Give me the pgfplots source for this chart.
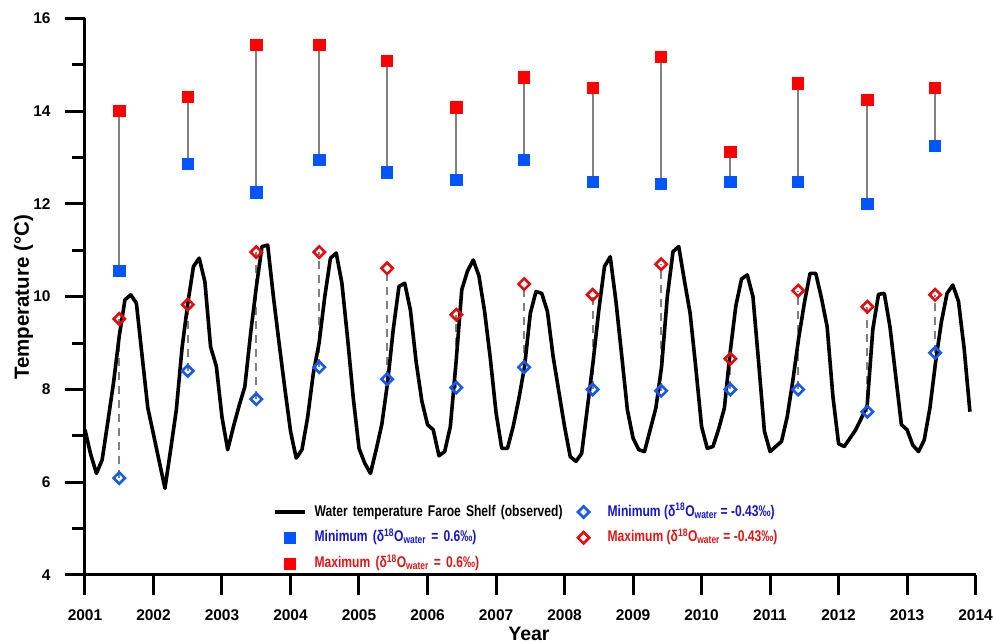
\documentclass[border=0pt]{standalone}
\usepackage{fontspec}
\setmainfont{Liberation Sans}
\newfontfamily\narrowfont[FakeStretch=0.78]{Liberation Sans}
\usepackage{pgfplots}
\usepackage{pgfplotstable}
\pgfplotsset{compat=1.18}
\definecolor{sqblue}{RGB}{0,85,255}
\definecolor{sqred}{RGB}{255,0,0}
\definecolor{dmblue}{RGB}{20,90,240}
\definecolor{dmred}{RGB}{230,10,10}
\definecolor{txtblue}{RGB}{20,20,210}
\definecolor{txtred}{RGB}{225,20,20}
\definecolor{conn}{RGB}{128,128,128}
\pgfplotsset{
  lineleg/.style={legend image code/.code={\path[draw=none,fill=none] (0pt,-5pt) rectangle (30pt,5pt); \draw[##1] (0pt,0pt) -- (30pt,0pt);}},
  markleg/.style={legend image code/.code={\path[draw=none,fill=none] (0pt,-5pt) rectangle (30pt,5pt); \draw[##1] plot coordinates {(15pt,0pt)};}},
}

\pgfplotstableread{
x        minA   maxA   minB  maxB
2001.50  10.56  14.00  6.09  9.52
2002.50  12.86  14.30  8.40  9.83
2003.50  12.25  15.42  7.79  10.96
2004.42  12.95  15.42  8.48  10.96
2005.41  12.68  15.08  8.22  10.61
2006.42  12.52  14.08  8.04  9.61
2007.41  12.95  14.73  8.48  10.27
2008.41  12.47  14.51  8.00  10.04
2009.41  12.44  15.17  7.97  10.70
2010.42  12.47  13.12  8.00  8.66
2011.41  12.47  14.60  8.00  10.13
2012.42  12.00  14.25  7.52  9.78
2013.41  13.26  14.51  8.79  10.04
}\marks

\begin{document}
\begin{tikzpicture}[x=1pt,y=1pt]
\path[use as bounding box] (-85,-69) rectangle (909,575);
\begin{axis}[
  at={(0,0)}, anchor=south west,
  scale only axis, width=890.6pt, height=556.7pt,
  xmin=2001, xmax=2014, ymin=4, ymax=16,
  axis lines=left, axis line style={-, line width=3pt},
  xtick={2001,2002,...,2014}, ytick={4,6,...,16}, minor ytick={5,7,...,15},
  scaled ticks=false,
  tick align=outside, major tick length=20pt, minor tick length=13pt,
  tick style={line width=3pt, black},
  /pgf/number format/assume math mode=true,
  /pgf/number format/1000 sep={},
  ticklabel style={font=\bfseries\fontsize{15.5}{16}\selectfont},
  yticklabel style={xshift=-11pt},
  xticklabel style={yshift=-11pt},
  xlabel={Year}, ylabel={Temperature (°C)},
  every axis y label/.style={at={(axis description cs:-0.0690,0.4985)}, rotate=90, anchor=center, font=\bfseries\fontsize{20.5}{21}\selectfont},
  every axis x label/.style={at={(axis description cs:0.4985,-0.1060)}, anchor=center, font=\bfseries\fontsize{19.5}{20}\selectfont},
  unbounded coords=jump,
  legend columns=2, legend cell align=left,
  legend style={draw=none, fill=none, inner sep=0pt, outer sep=0pt,
    at={(axis description cs:0.2111,0.1257)}, anchor=north west,
    font=\narrowfont\bfseries\fontsize{15.5}{15.5}\selectfont, row sep=11.8pt,
    nodes={inner sep=0pt, text height=11pt, text depth=3pt},
    /tikz/column 1/.style={column sep=8pt},
    /tikz/column 2/.style={text width=254pt},
    /tikz/column 3/.style={column sep=9pt}},
]
% connectors (solid, between squares)
\addplot[forget plot, conn, line width=2pt] coordinates {
(2001.50,10.56) (2001.50,14.00) (2001.50,nan)
(2002.50,12.86) (2002.50,14.30) (2002.50,nan)
(2003.50,12.25) (2003.50,15.42) (2003.50,nan)
(2004.42,12.95) (2004.42,15.42) (2004.42,nan)
(2005.41,12.68) (2005.41,15.08) (2005.41,nan)
(2006.42,12.52) (2006.42,14.08) (2006.42,nan)
(2007.41,12.95) (2007.41,14.73) (2007.41,nan)
(2008.41,12.47) (2008.41,14.51) (2008.41,nan)
(2009.41,12.44) (2009.41,15.17) (2009.41,nan)
(2010.42,12.47) (2010.42,13.12) (2010.42,nan)
(2011.41,12.47) (2011.41,14.60) (2011.41,nan)
(2012.42,12.00) (2012.42,14.25) (2012.42,nan)
(2013.41,13.26) (2013.41,14.51)
};
% connectors (dashed, between diamonds)
\addplot[forget plot, conn, line width=2pt, dash pattern=on 8pt off 6pt] coordinates {
(2001.50,6.09) (2001.50,9.52) (2001.50,nan)
(2002.50,8.40) (2002.50,9.83) (2002.50,nan)
(2003.50,7.79) (2003.50,10.96) (2003.50,nan)
(2004.42,8.48) (2004.42,10.96) (2004.42,nan)
(2005.41,8.22) (2005.41,10.61) (2005.41,nan)
(2006.42,8.04) (2006.42,9.61) (2006.42,nan)
(2007.41,8.48) (2007.41,10.27) (2007.41,nan)
(2008.41,8.00) (2008.41,10.04) (2008.41,nan)
(2009.41,7.97) (2009.41,10.70) (2009.41,nan)
(2010.42,8.00) (2010.42,8.66) (2010.42,nan)
(2011.41,8.00) (2011.41,10.13) (2011.41,nan)
(2012.42,7.52) (2012.42,9.78) (2012.42,nan)
(2013.41,8.79) (2013.41,10.04)
};
% observed water temperature
\addplot[forget plot, black, line width=3.6pt, line join=round, no marks] coordinates {
(2001.000,7.13) (2001.083,6.60) (2001.167,6.19) (2001.250,6.48) (2001.333,7.30) (2001.417,8.15) (2001.500,9.15) (2001.583,9.93) (2001.667,10.04) (2001.750,9.86) (2001.833,8.73) (2001.917,7.60)
(2002.000,7.03) (2002.083,6.45) (2002.167,5.87) (2002.250,6.70) (2002.333,7.56) (2002.417,8.90) (2002.500,9.85) (2002.583,10.65) (2002.667,10.83) (2002.750,10.32) (2002.833,8.92) (2002.917,8.50)
(2003.000,7.40) (2003.083,6.70) (2003.167,7.20) (2003.250,7.65) (2003.333,8.06) (2003.417,9.20) (2003.500,10.20) (2003.583,11.08) (2003.667,11.11) (2003.750,10.00) (2003.833,9.00) (2003.917,8.02)
(2004.000,7.10) (2004.083,6.52) (2004.167,6.70) (2004.250,7.40) (2004.333,8.35) (2004.417,9.00) (2004.500,10.00) (2004.583,10.83) (2004.667,10.94) (2004.750,10.29) (2004.833,9.10) (2004.917,7.80)
(2005.000,6.73) (2005.083,6.41) (2005.167,6.19) (2005.250,6.70) (2005.333,7.25) (2005.417,8.15) (2005.500,9.30) (2005.583,10.22) (2005.667,10.29) (2005.750,9.71) (2005.833,8.60) (2005.917,7.75)
(2006.000,7.24) (2006.083,7.13) (2006.167,6.57) (2006.250,6.66) (2006.333,7.20) (2006.417,8.60) (2006.500,10.15) (2006.583,10.55) (2006.667,10.79) (2006.750,10.45) (2006.833,9.68) (2006.917,8.66)
(2007.000,7.50) (2007.083,6.73) (2007.167,6.73) (2007.250,7.20) (2007.333,7.80) (2007.417,8.50) (2007.500,9.64) (2007.583,10.11) (2007.667,10.07) (2007.750,9.68) (2007.833,8.71) (2007.917,7.95)
(2008.000,7.20) (2008.083,6.55) (2008.167,6.45) (2008.250,6.62) (2008.333,7.60) (2008.417,8.60) (2008.500,9.71) (2008.583,10.65) (2008.667,10.86) (2008.750,9.90) (2008.833,8.75) (2008.917,7.56)
(2009.000,6.95) (2009.083,6.70) (2009.167,6.66) (2009.250,7.13) (2009.333,7.60) (2009.417,8.50) (2009.500,10.00) (2009.583,10.97) (2009.667,11.08) (2009.750,10.34) (2009.833,9.64) (2009.917,8.45)
(2010.000,7.20) (2010.083,6.73) (2010.167,6.77) (2010.250,7.15) (2010.333,7.60) (2010.417,8.80) (2010.500,9.80) (2010.583,10.38) (2010.667,10.47) (2010.750,10.00) (2010.833,8.58) (2010.917,7.10)
(2011.000,6.66) (2011.083,6.77) (2011.167,6.88) (2011.250,7.41) (2011.333,8.20) (2011.417,9.10) (2011.500,9.86) (2011.583,10.50) (2011.667,10.50) (2011.750,9.97) (2011.833,9.35) (2011.917,7.85)
(2012.000,6.83) (2012.083,6.77) (2012.167,6.95) (2012.250,7.13) (2012.333,7.38) (2012.417,7.65) (2012.500,9.30) (2012.583,10.05) (2012.667,10.07) (2012.750,9.35) (2012.833,8.30) (2012.917,7.24)
(2013.000,7.13) (2013.083,6.80) (2013.167,6.66) (2013.250,6.91) (2013.333,7.60) (2013.417,8.60) (2013.500,9.45) (2013.583,10.07) (2013.667,10.25) (2013.750,9.90) (2013.833,8.88) (2013.917,7.52)
};
% markers
\addplot[forget plot, only marks, mark=square*, mark size=5.6pt, mark options={fill=sqblue, draw=sqblue, line width=0.6pt}] table[x=x, y=minA] {\marks};
\addplot[forget plot, only marks, mark=square*, mark size=5.6pt, mark options={fill=sqred, draw=sqred, line width=0.6pt}] table[x=x, y=maxA] {\marks};
\addplot[forget plot, only marks, mark=square, mark size=4pt, mark options={draw=dmblue, line width=2.6pt, rotate=45}] table[x=x, y=minB] {\marks};
\addplot[forget plot, only marks, mark=square, mark size=4pt, mark options={draw=dmred, line width=2.6pt, rotate=45}] table[x=x, y=maxB] {\marks};

% legend (row-wise order giving the reference's column layout)
\addlegendimage{black, line width=3.6pt, lineleg}
\addlegendentry{Water temperature Faroe Shelf (observed)}
\addlegendimage{only marks, mark=square, mark size=4pt, mark options={draw=dmblue, line width=2.6pt, rotate=45}, markleg}
\addlegendentry{\textcolor{txtblue}{Minimum (δ\textsuperscript{18}O\textsubscript{water} = -0.43‰)}}
\addlegendimage{only marks, mark=square*, mark size=5.6pt, mark options={fill=sqblue, draw=sqblue, line width=0.6pt}, markleg}
\addlegendentry{\textcolor{txtblue}{Minimum (δ\textsuperscript{18}O\textsubscript{water} = 0.6‰)}}
\addlegendimage{only marks, mark=square, mark size=4pt, mark options={draw=dmred, line width=2.6pt, rotate=45}, markleg}
\addlegendentry{\textcolor{txtred}{Maximum (δ\textsuperscript{18}O\textsubscript{water} = -0.43‰)}}
\addlegendimage{only marks, mark=square*, mark size=5.6pt, mark options={fill=sqred, draw=sqred, line width=0.6pt}, markleg}
\addlegendentry{\textcolor{txtred}{Maximum (δ\textsuperscript{18}O\textsubscript{water} = 0.6‰)}}

\draw[line width=3pt] (axis cs:2001,4) -- ++(-20pt,0pt);
\end{axis}
\end{tikzpicture}
\end{document}
